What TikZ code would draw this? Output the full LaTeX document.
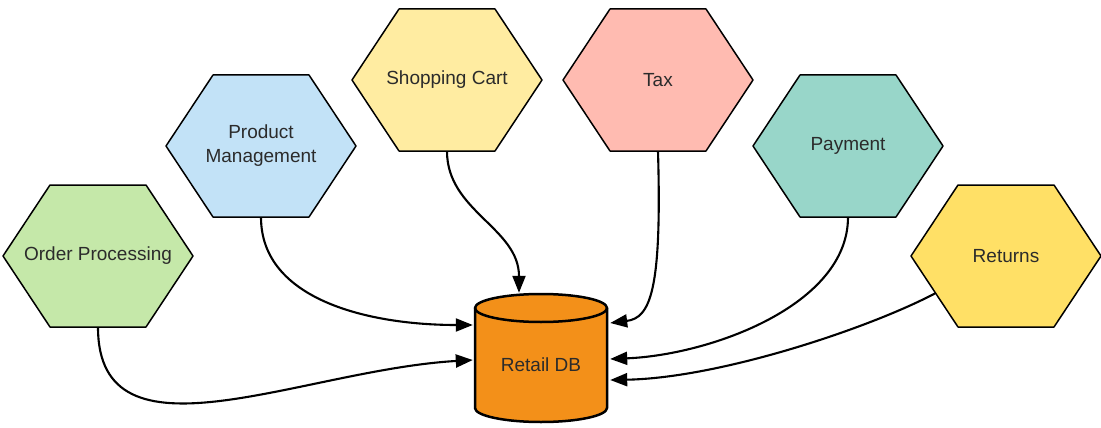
\documentclass[tikz,border=0pt]{standalone}
\usepackage{fontspec}
\setmainfont{Liberation Sans}
\usetikzlibrary{arrows.meta,calc}
\definecolor{cgreen}{HTML}{C5E8A9}
\definecolor{cblue}{HTML}{C2E2F7}
\definecolor{cyellow}{HTML}{FFECA1}
\definecolor{cpink}{HTML}{FFBBB1}
\definecolor{cteal}{HTML}{98D6C9}
\definecolor{cgold}{HTML}{FFE066}
\definecolor{dborange}{HTML}{F39019}
\definecolor{textgray}{HTML}{2B2B2B}
\newcommand\hexa[5]{%
  \path[hexline, fill=#4] (#2-95,#3) -- (#2-48,#3-71) -- (#2+48,#3-71) -- (#2+95,#3) -- (#2+48,#3+71) -- (#2-48,#3+71) -- cycle;
  \node[hexnode] (#1) at (#2,#3) {#5};}
\begin{document}
\begin{tikzpicture}[x=1pt,y=-1pt,
  hexline/.style={draw=black, line width=1.5pt, line join=round},
  hexnode/.style={rectangle, minimum width=190pt, minimum height=142pt, inner sep=0pt, align=center, text=textgray, font=\fontsize{19}{24}\selectfont},
  conn/.style={draw=black, line width=2.1pt, -{Triangle[length=17pt,width=13pt]}},
  dbline/.style={draw=black, line width=2.5pt, line join=round},
  dbnode/.style={rectangle, minimum width=132pt, minimum height=114pt, inner sep=0pt, text=textgray, font=\fontsize{19}{24}\selectfont}]
\useasboundingbox (0,0) rectangle (1101,428);
\hexa{op}{98}{256}{cgreen}{Order Processing}
\hexa{pm}{261}{146}{cblue}{Product\\Management}
\hexa{sc}{447}{80}{cyellow}{Shopping Cart}
\hexa{tax}{658}{80}{cpink}{Tax}
\hexa{pay}{848}{146}{cteal}{Payment}
\hexa{ret}{1006}{256}{cgold}{Returns}
% cylinder
\path[dbline, fill=dborange] (475,308) -- (475,408) arc[start angle=180,end angle=360,x radius=66pt,y radius=14pt] -- (607,308) arc[start angle=0,end angle=180,x radius=66pt,y radius=14pt] -- cycle;
\draw[dbline] (475,308) arc[start angle=180,end angle=360,x radius=66pt,y radius=14pt];
\node[dbnode] (db) at (541,365) {\raisebox{-5pt}{Retail DB}};
% connectors
\draw[conn] (op.south) .. controls +(0,143) and +(-172,10) .. ($(db.west)+(-2,-5)$);
\draw[conn] (pm.south) .. controls +(0,83) and +(-103,0) .. ($(db.west)+(-2,-40)$);
\draw[conn] (sc.south) .. controls +(0,60) and +(0,-65) .. ($(db.north)+(-22,-15)$);
\draw[conn] (tax.south) .. controls +(4,140) and +(40,-5) .. ($(db.east)+(3,-42)$);
\draw[conn] (pay.south) .. controls +(0,88) and +(100,-4) .. ($(db.east)+(3,-6)$);
\draw[conn] ($(ret.west)+(25,37)$) .. controls +(-66,35) and +(110,-2) .. ($(db.east)+(3,15)$);
\end{tikzpicture}
\end{document}
